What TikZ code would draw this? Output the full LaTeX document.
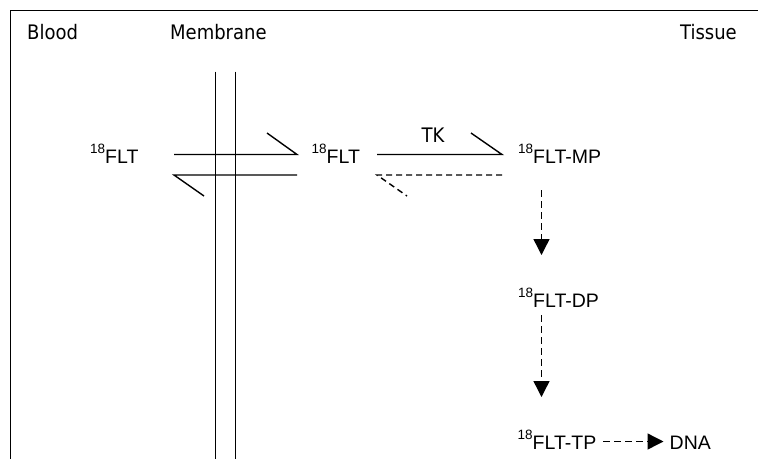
\documentclass[tikz,border=0pt]{standalone}
\usepackage{fontspec}
\setmainfont{Liberation Sans}
\newfontfamily\headfont{DejaVu Sans Condensed}
\usetikzlibrary{arrows.meta}
\newcommand\isotope[1]{\raisebox{10pt}{\fontsize{13.5}{14}\selectfont #1}}
\begin{document}
\begin{tikzpicture}[x=1pt,y=-1pt,
  lbl/.style={inner sep=0pt,anchor=base west,font=\fontsize{19.5}{22}\selectfont},
  head/.style={inner sep=0pt,anchor=base west,font=\headfont\fontsize{20}{22}\selectfont},
  rline/.style={line width=1.4pt},
  dline/.style={line width=1.4pt,dash pattern=on 6pt off 4pt},
  flow/.style={line width=1.4pt,dash pattern=on 7pt off 4pt,-{Triangle[length=16pt,width=16pt]}},
  wall/.style={line width=1.1pt}]
\useasboundingbox (0,0) rectangle (758,459);
% frame (open at right and bottom)
\draw[line width=1.6pt] (758,10.5) -- (10.5,10.5) -- (10.5,459);
% compartment headings
\node[head] (blood) at (27,39.5) {Blood};
\node[head] (membrane) at (170,39.5) {Membrane};
\node[head] (tissue) at (680,39.5) {Tissue};
% membrane walls
\draw[wall] (215.5,71.5) -- (215.5,459);
\draw[wall] (235.5,71.5) -- (235.5,459);
% species
\node[lbl] (fltb) at (90,163.5) {\isotope{18}FLT};
\node[lbl] (fltt) at (311.5,163.5) {\isotope{18}FLT};
\node[lbl] (mp) at (518,163.5) {\isotope{18}FLT-MP};
\node[lbl] (dp) at (518,307.5) {\isotope{18}FLT-DP};
\node[lbl] (tp) at (517.5,449.5) {\isotope{18}FLT-TP};
\node[lbl] (dna) at (669.5,449.5) {DNA};
\node[head] (tk) at (421.5,142.5) {TK};
% transport across the membrane
\coordinate (t1) at (174,154.5);
\coordinate (t2) at (297,154.5);
\coordinate (t2b) at (267,133);
\coordinate (b1) at (297,175);
\coordinate (b2) at (174,175);
\coordinate (b2b) at (204,196);
\draw[rline] (t1) -- (t2) -- (t2b);
\draw[rline] (b1) -- (b2) -- (b2b);
% phosphorylation by TK and the reverse step
\coordinate (k1) at (377,154.5);
\coordinate (k2) at (502,154.5);
\coordinate (k2b) at (471,133);
\coordinate (r1) at (502,175);
\coordinate (r2) at (377,175);
\coordinate (r2b) at (407,196);
\draw[rline] (k1) -- (k2) -- (k2b);
\draw[dline] (r1) -- (r2) -- (r2b);
% further phosphorylation and incorporation
\coordinate (m1) at (541.5,190);
\coordinate (m2) at (541.5,255);
\coordinate (d1) at (541.5,315);
\coordinate (d2) at (541.5,397);
\coordinate (n1) at (603,441.5);
\coordinate (n2) at (663.5,441.5);
\draw[flow] (m1) -- (m2);
\draw[flow] (d1) -- (d2);
\draw[flow] (n1) -- (n2);
\end{tikzpicture}
\end{document}
